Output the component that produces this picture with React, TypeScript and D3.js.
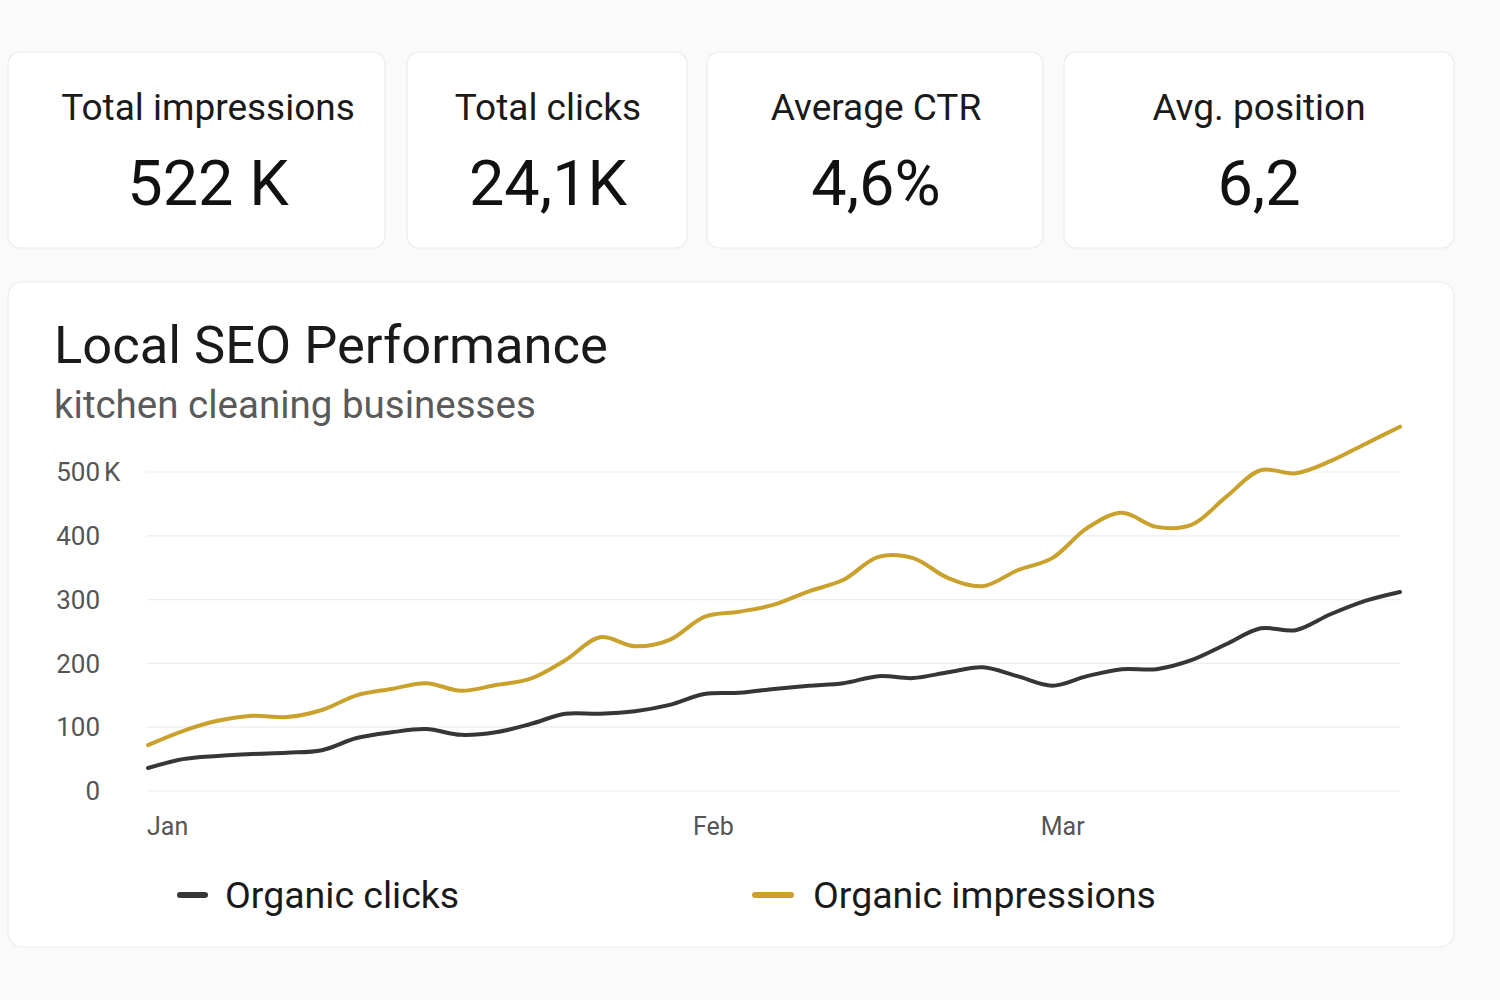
import * as d3 from 'd3'

// KPI cards
const kpiLabels = ['Total impressions', 'Total clicks', 'Average CTR', 'Avg. position']
const kpiValues = ['522 K', '24,1K', '4,6%', '6,2']

// chart series (thousands), one value per step along the quarter
const clicks = [
  36, 50, 55, 58, 60, 64, 83, 92, 97, 88, 92, 105, 121, 121, 125, 135, 152, 154, 160,
  165, 169, 180, 177, 186, 194, 180, 165, 180, 191, 191, 205, 230, 255, 252, 277, 298, 312,
]
const impressions = [
  72, 94, 110, 118, 116, 127, 150, 160, 169, 157, 166, 176, 205, 241, 227, 237, 273, 281, 292,
  313, 331, 367, 365, 334, 321, 346, 365, 412, 436, 414, 417, 461, 503, 498, 517, 544, 571,
]
const monthLabels = ['Jan', 'Feb', 'Mar']
const monthAt = [0, 15.7, 25.7]
const yTicks = [0, 100, 200, 300, 400, 500]

const seriesNames = ['Organic clicks', 'Organic impressions']
const seriesColors = ['#363636', '#c9a12c']

const FONT = 'Roboto, "Open Sans", sans-serif'

// card boxes [x0, x1] and text centres
const cardX = [
  [8, 385, 208],
  [407, 687, 548],
  [707, 1043, 876],
  [1064, 1454, 1259],
]

export default function App() {
  const x = d3.scaleLinear().domain([0, clicks.length - 1]).range([148, 1400])
  const y = d3.scaleLinear().domain([0, 500]).range([791, 472])

  const line = d3.line<number>()
    .x((_, i) => x(i))
    .y(d => y(d))
    .curve(d3.curveCatmullRom.alpha(0.5))

  const series = [clicks, impressions]

  return (
    <>
      <style>{`body{margin:0;background:#fafafa}`}</style>
      <svg width={1500} height={1000} style={{ display: 'block', fontFamily: FONT }}>
        <rect x={0} y={0} width={1500} height={1000} fill="#fafafa" />

        {kpiLabels.map((label, i) => {
          const [x0, x1, cx] = cardX[i]
          return (
            <g key={label}>
              <rect x={x0} y={52} width={x1 - x0} height={196} rx={12} fill="#fff" stroke="#ececec" strokeWidth={1.2} />
              <text x={cx} y={120} textAnchor="middle" fontSize={37} fill="#1a1a1a">{label}</text>
              <text x={cx} y={205} textAnchor="middle" fontSize={63} fill="#111">{kpiValues[i]}</text>
            </g>
          )
        })}

        <rect x={8} y={282} width={1446} height={665} rx={14} fill="#fff" stroke="#ececec" strokeWidth={1.2} />
        <text x={54} y={363} fontSize={52.5} fill="#1a1a1a">Local SEO Performance</text>
        <text x={54} y={418} fontSize={38.5} fill="#5a5a5a">kitchen cleaning businesses</text>

        {/* grid + y labels */}
        {yTicks.map(t => (
          <g key={t}>
            <line x1={147} x2={1400} y1={y(t)} y2={y(t)} stroke="#eeeeee" strokeWidth={1.2} />
            <text x={100} y={y(t)} dy="0.35em" textAnchor="end" fontSize={26} fill="#555">{t}</text>
            {t === yTicks[yTicks.length - 1] && (
              <text x={104} y={y(t)} dy="0.35em" fontSize={26} fill="#555">K</text>
            )}
          </g>
        ))}

        {/* x labels */}
        {monthLabels.map((m, i) => (
          <text key={m} x={x(monthAt[i]) - 1} y={835} fontSize={25} fill="#555">{m}</text>
        ))}

        {series.map((s, i) => (
          <path key={seriesNames[i]} d={line(s) ?? ''} fill="none" stroke={seriesColors[i]}
            strokeWidth={4} strokeLinecap="round" strokeLinejoin="round" />
        ))}

        {/* legend */}
        {seriesNames.map((n, i) => {
          const lx = i === 0 ? 180 : 755
          const lw = i === 0 ? 25 : 36
          return (
            <g key={n}>
              <line x1={lx} x2={lx + lw} y1={895} y2={895} stroke={seriesColors[i]} strokeWidth={6} strokeLinecap="round" />
              <text x={i === 0 ? 225 : 813} y={908} fontSize={37.5} fill="#1a1a1a">{n}</text>
            </g>
          )
        })}
      </svg>
    </>
  )
}
